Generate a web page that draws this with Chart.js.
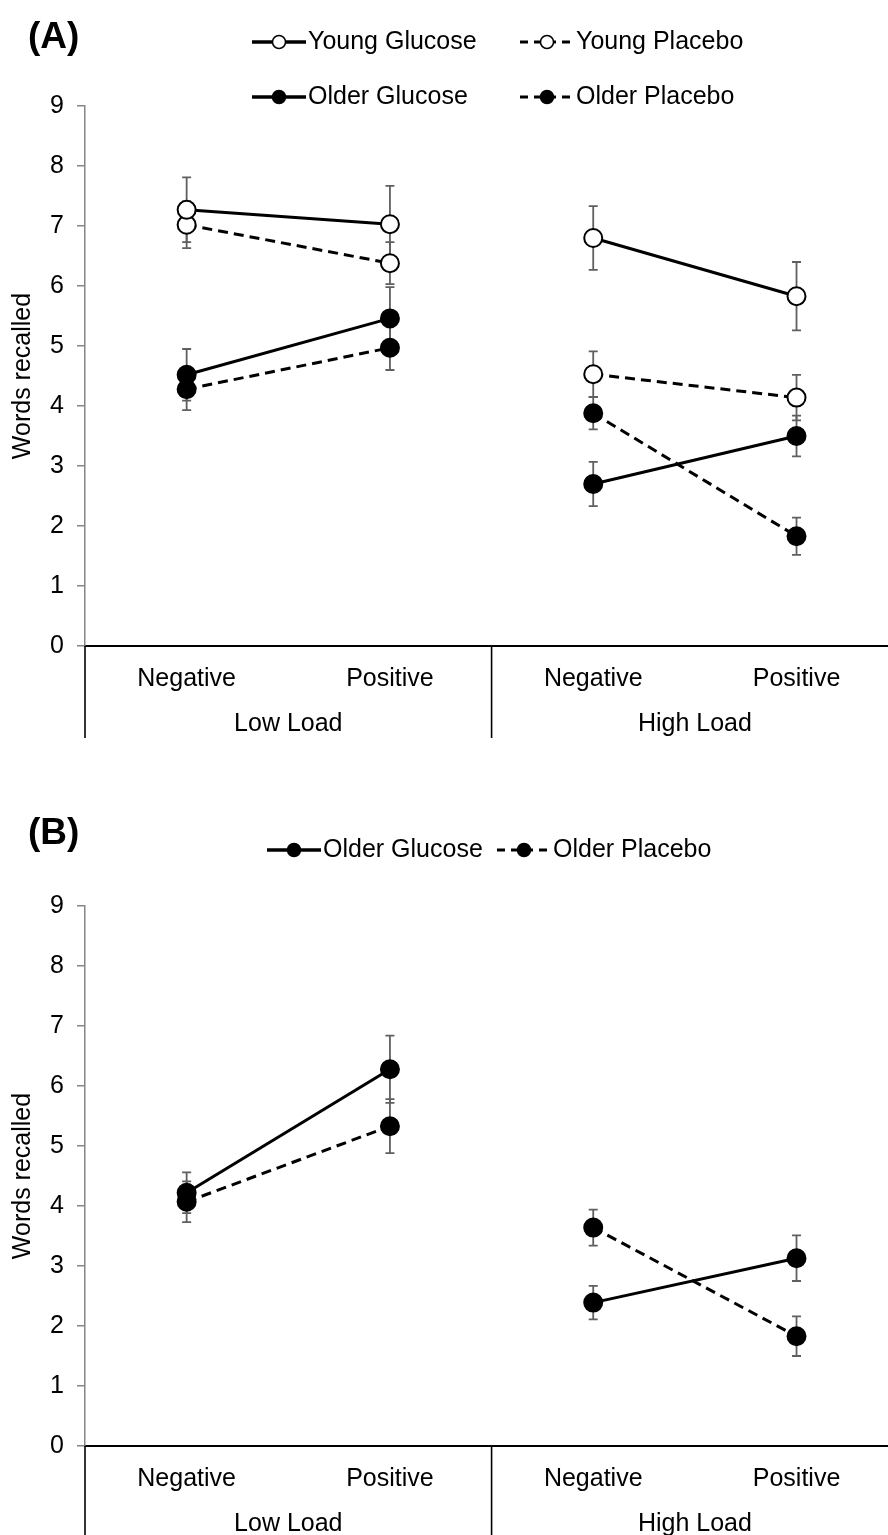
<!DOCTYPE html>
<html><head><meta charset="utf-8">
<script src="https://cdn.jsdelivr.net/npm/chart.js@4.4.1/dist/chart.umd.min.js"></script>
<style>
html,body{margin:0;padding:0;background:#fff;width:888px;height:1535px;overflow:hidden;}
.wrap{position:absolute;left:0;width:888px;}
canvas{display:block;}
</style></head><body>
<div class="wrap" style="top:0;height:760px"><canvas id="chartA" width="888" height="760"></canvas></div>
<div class="wrap" style="top:800px;height:735px"><canvas id="chartB" width="888" height="735"></canvas></div>
<script>
// ---- data ----
const conditions = ['Negative', 'Positive', 'Negative', 'Positive'];
const loads = ['Low Load', 'High Load'];
const yMin = 0, yMax = 9, yStep = 1;
const yTitle = 'Words recalled';

// Panel A
const youngGlucoseA = [7.27, 7.03, 6.80, 5.83];
const youngGlucoseErrA = [0.54, 0.64, 0.53, 0.57];
const youngPlaceboA = [7.02, 6.38, 4.53, 4.14];
const youngPlaceboErrA = [0.39, 0.35, 0.38, 0.38];
const olderGlucoseA = [4.52, 5.46, 2.70, 3.50];
const olderGlucoseErrA = [0.43, 0.52, 0.37, 0.34];
const olderPlaceboA = [4.28, 4.97, 3.88, 1.83];
const olderPlaceboErrA = [0.35, 0.37, 0.27, 0.31];

// Panel B
const olderGlucoseB = [4.22, 6.28, 2.39, 3.13];
const olderGlucoseErrB = [0.34, 0.56, 0.28, 0.38];
const olderPlaceboB = [4.07, 5.33, 3.64, 1.83];
const olderPlaceboErrB = [0.34, 0.45, 0.30, 0.33];

// ---- helpers ----
const FONT = '"Liberation Sans", Arial, Helvetica, sans-serif';
Chart.defaults.font.family = FONT;
Chart.defaults.color = '#000';

const xTickValues = conditions.map((c, i) => i).concat(loads.map((l, g) => g * 2 + 0.5)).sort((a, b) => a - b);
const sepValues = [-0.5].concat(loads.map((l, g) => g * 2 + 1.5));

const errorBarsPlugin = {
  id: 'errorBars',
  beforeDatasetsDraw(chart) {
    const {ctx} = chart;
    const ys = chart.scales.y;
    ctx.save();
    ctx.strokeStyle = '#5f5f5f';
    ctx.lineWidth = 1.8;
    chart.data.datasets.forEach((ds, di) => {
      const meta = chart.getDatasetMeta(di);
      meta.data.forEach((pt, i) => {
        const v = ds.data[i].y, e = ds.errors[i];
        const yt = ys.getPixelForValue(v + e), yb = ys.getPixelForValue(v - e);
        ctx.beginPath();
        ctx.moveTo(pt.x, yt); ctx.lineTo(pt.x, yb);
        ctx.moveTo(pt.x - 4.5, yt); ctx.lineTo(pt.x + 4.5, yt);
        ctx.moveTo(pt.x - 4.5, yb); ctx.lineTo(pt.x + 4.5, yb);
        ctx.stroke();
      });
    });
    ctx.restore();
  }
};

const decorPlugin = {
  id: 'decor',
  afterDraw(chart, args, opts) {
    const {ctx, chartArea} = chart;
    const xs = chart.scales.x;
    ctx.save();
    ctx.strokeStyle = '#000';
    ctx.lineWidth = 1.6;
    sepValues.forEach(v => {
      const px = xs.getPixelForValue(v);
      ctx.beginPath();
      ctx.moveTo(px, chartArea.bottom);
      ctx.lineTo(px, opts.sepBottom);
      ctx.stroke();
    });
    ctx.fillStyle = '#000';
    ctx.font = 'bold 37px ' + FONT;
    ctx.textBaseline = 'middle';
    ctx.textAlign = 'left';
    ctx.fillText(opts.panel, opts.panelX, opts.panelY);
    ctx.font = '25px ' + FONT;
    opts.rows.forEach((row, r) => {
      const y = opts.legendY[r];
      row.forEach((di, c) => {
        const ds = chart.data.datasets[di];
        const x0 = opts.colX[c];
        const w = 54;
        ctx.save();
        ctx.strokeStyle = '#000';
        ctx.lineWidth = 3.5;
        if (ds.borderDash && ds.borderDash.length) {
          ctx.lineWidth = 3;
          ctx.setLineDash([8, 6]);
        }
        ctx.beginPath(); ctx.moveTo(x0, y); ctx.lineTo(x0 + w, y); ctx.stroke();
        ctx.setLineDash([]);
        ctx.beginPath(); ctx.arc(x0 + w / 2, y, 6.5, 0, Math.PI * 2);
        ctx.fillStyle = ds.pointBackgroundColor; ctx.fill();
        ctx.lineWidth = 1.5; ctx.stroke();
        ctx.restore();
        ctx.fillStyle = '#000';
        ctx.fillText(ds.label, x0 + w + 2, y);
      });
    });
    ctx.restore();
  }
};

function makeDataset(label, values, errors, dashed, open) {
  return {
    label,
    data: values.map((v, i) => ({x: i, y: v})),
    errors,
    borderColor: '#000',
    borderWidth: 3,
    borderDash: dashed ? [10, 6] : [],
    pointRadius: 9,
    pointHoverRadius: 9,
    pointBorderWidth: 2,
    pointBackgroundColor: open ? '#fff' : '#000',
    pointBorderColor: '#000',
    tension: 0,
    fill: false,
    clip: false,
    segment: {
      borderColor: ctx => ctx.p0DataIndex === 1 ? 'rgba(0,0,0,0)' : '#000'
    }
  };
}

function makeChart(id, datasets, cfg) {
  return new Chart(document.getElementById(id), {
    type: 'line',
    data: {datasets},
    plugins: [errorBarsPlugin, decorPlugin],
    options: {
      responsive: false,
      animation: false,
      events: [],
      layout: {autoPadding: false, padding: {top: cfg.padTop, left: 0, right: 0, bottom: 0}},
      plugins: {
        legend: {display: false},
        tooltip: {enabled: false},
        decor: cfg.decor
      },
      scales: {
        x: {
          type: 'linear',
          bounds: 'data',
          min: -0.5,
          max: 3.45,
          grid: {display: false},
          border: {display: true, color: '#000', width: 2},
          afterBuildTicks: s => { s.ticks = xTickValues.map(v => ({value: v})); },
          afterFit: s => { s.height = cfg.xAxisH; s.paddingLeft = 0; s.paddingRight = 0; },
          ticks: {
            autoSkip: false, maxRotation: 0, minRotation: 0, padding: 3, color: '#000',
            font: {size: 25, lineHeight: '45px'},
            callback: v => Number.isInteger(v) ? conditions[v] : ['', loads[Math.round((v - 0.5) / 2)]]
          }
        },
        y: {
          min: yMin, max: yMax,
          ticks: {stepSize: yStep, padding: 13, color: '#000', font: {size: 25}},
          grid: {drawOnChartArea: false, drawTicks: true, tickLength: 8, color: '#868686', lineWidth: 1.5},
          border: {display: true, color: '#868686', width: 1.5},
          title: {display: true, text: yTitle, color: '#000', font: {size: 25}, padding: {top: 8, bottom: 0}},
          afterFit: s => { s.width = 85; }
        }
      }
    }
  });
}

makeChart('chartA', [
  makeDataset('Young Glucose', youngGlucoseA, youngGlucoseErrA, false, true),
  makeDataset('Young Placebo', youngPlaceboA, youngPlaceboErrA, true, true),
  makeDataset('Older Glucose', olderGlucoseA, olderGlucoseErrA, false, false),
  makeDataset('Older Placebo', olderPlaceboA, olderPlaceboErrA, true, false)
], {
  padTop: 106, xAxisH: 114,
  decor: {sepBottom: 738, panel: '(A)', panelX: 28, panelY: 38,
          rows: [[0, 1], [2, 3]], legendY: [42, 97], colX: [252, 520]}
});

makeChart('chartB', [
  makeDataset('Older Glucose', olderGlucoseB, olderGlucoseErrB, false, false),
  makeDataset('Older Placebo', olderPlaceboB, olderPlaceboErrB, true, false)
], {
  padTop: 106, xAxisH: 89,
  decor: {sepBottom: 735, panel: '(B)', panelX: 28, panelY: 34,
          rows: [[0, 1]], legendY: [50], colX: [267, 497]}
});
</script>
</body></html>
